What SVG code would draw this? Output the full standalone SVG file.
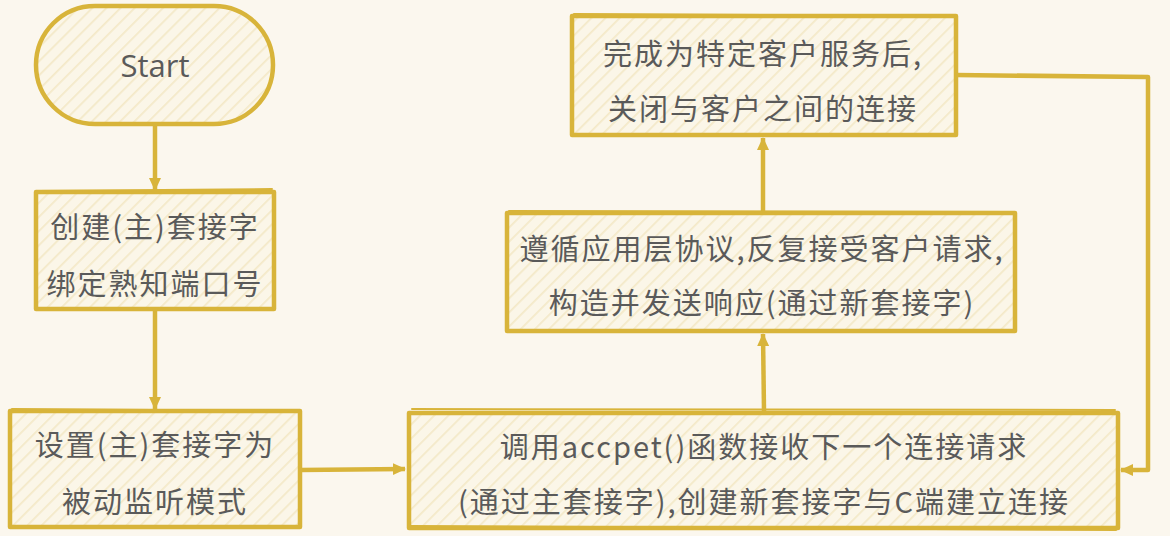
<svg xmlns="http://www.w3.org/2000/svg" width="1170" height="536" viewBox="0 0 1170 536">
<defs>
<pattern id="hatch" patternUnits="userSpaceOnUse" width="10" height="10" patternTransform="rotate(45)">
<rect width="10" height="10" fill="#FBF6E8"/>
<line x1="0" y1="0" x2="0" y2="10" stroke="#F4E9C8" stroke-width="3.5"/>
</pattern>
<marker id="arrow" markerWidth="14" markerHeight="14" refX="12" refY="7" orient="auto" markerUnits="userSpaceOnUse" viewBox="0 0 14 14">
<path d="M0,1 L13,7 L0,13 Z" fill="#D8B43A"/>
</marker>
</defs>
<style>
.box{fill:url(#hatch);stroke:#D8B43A;stroke-width:4.5;stroke-linejoin:round}
.sk{fill:none;stroke:#D8B43A;stroke-width:2;stroke-linecap:round}
.t{font-family:"Noto Sans CJK SC","Noto Sans",sans-serif;font-size:29px;fill:#5A5A5A;text-anchor:middle;dominant-baseline:central;letter-spacing:2px}
.con{fill:none;stroke:#D8B43A;stroke-width:4.5;stroke-linejoin:round}
</style>
<rect width="1170" height="536" fill="#FBF7EE"/>
<g id="start">
<rect class="box" x="36" y="6" width="237" height="118" rx="59" ry="59"/>
<text class="t" x="155" y="65" style="font-family:'Open Sans','Noto Sans',sans-serif;font-size:31px;letter-spacing:0">Start</text>
</g>
<g id="create">
<rect class="box" x="36" y="192" width="238" height="117"/>
<path class="sk" d="M38,191 L272,189"/>
<text class="t" x="155" y="225">创建(主)套接字</text>
<text class="t" x="155" y="282">绑定熟知端口号</text>
</g>
<g id="listen">
<rect class="box" x="10" y="411" width="290" height="116"/>
<path class="sk" d="M12,409 L298,411"/>
<text class="t" x="155" y="443">设置(主)套接字为</text>
<text class="t" x="155" y="500">被动监听模式</text>
</g>
<g id="accept">
<rect class="box" x="409" y="413" width="709" height="115"/>
<path class="sk" d="M412,409 L1115,410"/>
<path class="sk" d="M411,526 L1116,530"/>
<text class="t" x="764" y="445">调用accpet()函数接收下一个连接请求</text>
<text class="t" x="764" y="500">(通过主套接字),创建新套接字与C端建立连接</text>
</g>
<g id="serve">
<rect class="box" x="507" y="213" width="508" height="118"/>
<path class="sk" d="M509,211 L1013,212"/>
<text class="t" x="762" y="247">遵循应用层协议,反复接受客户请求,</text>
<text class="t" x="762" y="301">构造并发送响应(通过新套接字)</text>
</g>
<g id="close">
<rect class="box" x="572" y="16" width="384" height="119"/>
<path class="sk" d="M574,14 L954,16"/>
<text class="t" x="763" y="52">完成为特定客户服务后,</text>
<text class="t" x="763" y="107">关闭与客户之间的连接</text>
</g>
<g id="connectors">
<path class="con" d="M155,124 L155,190" marker-end="url(#arrow)"/>
<path class="con" d="M155,309 L155,409" marker-end="url(#arrow)"/>
<path class="con" d="M300,470 L405,469" marker-end="url(#arrow)"/>
<path class="con" d="M764,411 L763,334" marker-end="url(#arrow)"/>
<path class="con" d="M763,211 L763,138" marker-end="url(#arrow)"/>
<path class="con" d="M956,75 L1148,77 L1148,470 L1121,470" marker-end="url(#arrow)"/>
</g>
</svg>
